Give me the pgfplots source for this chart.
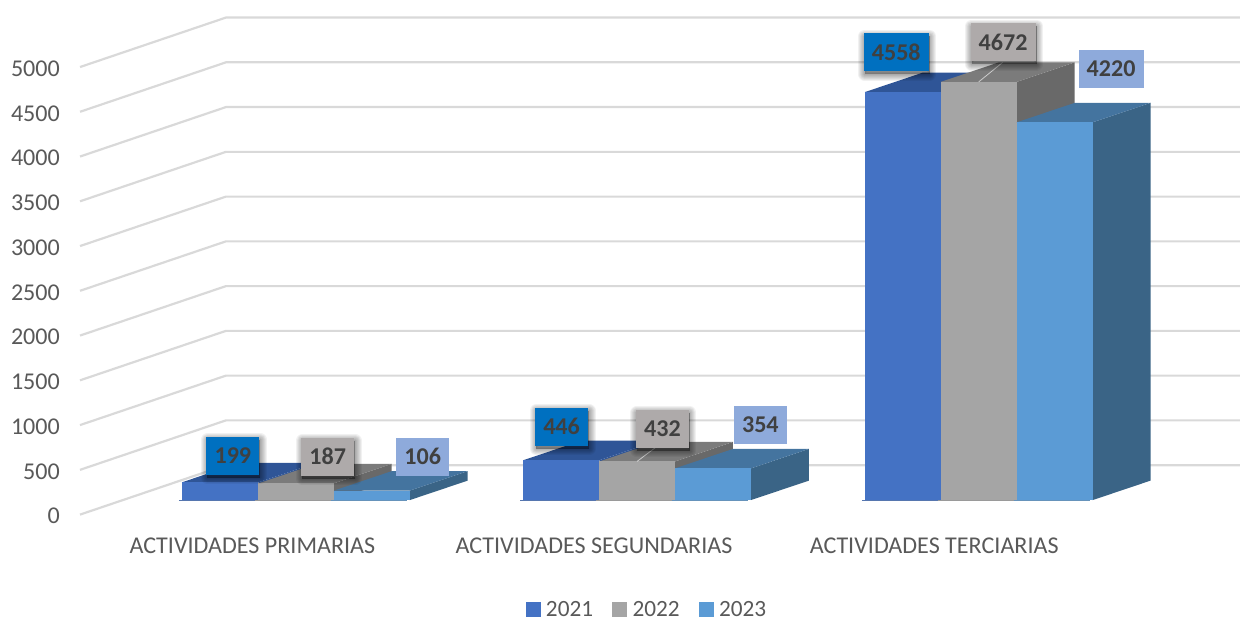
\documentclass[border=0pt]{standalone}
\usepackage{fontspec}
\setmainfont{Carlito}
\usepackage{pgfplots}
\pgfplotsset{compat=1.18}
\definecolor{txt}{HTML}{595959}
\definecolor{gridc}{HTML}{D9D9D9}
\definecolor{fa}{HTML}{4472C4}\definecolor{ta}{HTML}{2F5597}\definecolor{sa}{HTML}{2F5597}
\definecolor{fb}{HTML}{A5A5A5}\definecolor{tb}{HTML}{7B7B7B}\definecolor{sb}{HTML}{696969}
\definecolor{fc}{HTML}{5B9BD5}\definecolor{tc}{HTML}{44749F}\definecolor{sc}{HTML}{3A6486}
\definecolor{la}{HTML}{0070C0}\definecolor{lb}{HTML}{AEAAAA}\definecolor{lc}{HTML}{8EAADB}
% x0, x1, value, front, top, side
\newcommand{\tdbar}[6]{%
 \addplot[fill=#6,draw=none,forget plot] coordinates {(#2,0)(#2+58,217.6)(#2+58,#3+217.6)(#2,#3)};
 \addplot[fill=#5,draw=none,forget plot] coordinates {(#1,#3)(#1+58,#3+217.6)(#2+58,#3+217.6)(#2,#3)};
 \addplot[#4!70!gray,line width=1pt,forget plot] coordinates {(#1-3,-6)(#2-3,-6)};
 \addplot[fill=#4,draw=none,forget plot] coordinates {(#1,0)(#2,0)(#2,#3)(#1,#3)};
}
\newcommand{\gridl}[1]{\addplot[gridc,line width=2.2pt,forget plot] coordinates {(80,#1)(226,#1+552.4)(1241,#1+552.4)};}
\tikzset{lab/.style={font=\fontsize{24.1}{26}\selectfont\bfseries,text=black!75,inner sep=0pt,minimum height=38pt,anchor=center},
 sh/.style={preaction={draw=black,fill=black,draw opacity=.055,fill opacity=.055,line width=#1,line join=round,transform canvas={xshift=1pt,yshift=-3pt}}},
 shad/.style={sh=13pt,sh=11pt,sh=9pt,sh=7pt,sh=5pt,sh=3pt,sh=1pt}}
\begin{document}
\begin{tikzpicture}
\begin{axis}[name=wall,scale only axis,width=1241pt,height=617pt,
 xmin=0,xmax=1241,ymin=-1138.4,ymax=5747.8,
 axis line style={draw=none},major tick length=0pt,
 ytick={0,500,1000,1500,2000,2500,3000,3500,4000,4500,5000},
 xtick={252.5,594.5,935},xticklabels={ACTIVIDADES PRIMARIAS,ACTIVIDADES SEGUNDARIAS,ACTIVIDADES TERCIARIAS},
 /pgf/number format/assume math mode=true,/pgf/number format/1000 sep={},
 yticklabel style={anchor=east,inner sep=0pt,xshift=60pt,yshift=-1.5pt,text=txt,font=\fontsize{24.1}{26}\selectfont},
 xticklabel style={anchor=center,inner sep=0pt,yshift=71pt,text=txt,font=\fontsize{24.1}{26}\selectfont},
 clip=false]
\gridl{0}\gridl{500}\gridl{1000}\gridl{1500}\gridl{2000}\gridl{2500}\gridl{3000}\gridl{3500}\gridl{4000}\gridl{4500}\gridl{5000}
\end{axis}
\begin{axis}[at={(wall.south west)},anchor=south west,scale only axis,width=1241pt,height=617pt,
 xmin=-0.5,xmax=1240.5,ymin=-1300.2,ymax=5586,hide axis,clip=false,
 legend style={at={(0.5217,0.012)},anchor=center,draw=none,fill=none,inner sep=0pt,outer sep=0pt,
   font=\fontsize{23.3}{24}\selectfont,text=txt,legend columns=3,
   nodes={text depth=0pt,text height=14pt},
   /tikz/every even column/.append style={column sep=17pt},
   /tikz/every odd column/.append style={column sep=4pt}},
 legend cell align=left,
 legend image code/.code={\fill[#1] (0pt,-7pt) rectangle (14pt,7pt);}]
\addlegendimage{fa}\addlegendentry{2021}
\addlegendimage{fb}\addlegendentry{2022}
\addlegendimage{fc}\addlegendentry{2023}
\tdbar{181.5}{258}{199}{fa}{ta}{sa}
\tdbar{258}{333.5}{187}{fb}{tb}{sb}
\tdbar{333.5}{409.5}{106}{fc}{tc}{sc}
\tdbar{523.3}{599.3}{446}{fa}{ta}{sa}
\tdbar{599.3}{675}{432}{fb}{tb}{sb}
\tdbar{675}{751}{354}{fc}{tc}{sc}
\tdbar{865}{941}{4558}{fa}{ta}{sa}
\tdbar{941}{1017}{4672}{fb}{tb}{sb}
\tdbar{1017}{1093}{4220}{fc}{tc}{sc}
\addplot[white!80!black,line width=.8pt,forget plot] coordinates {(979,4672)(1003,4890)};
\addplot[white!80!black,line width=.8pt,forget plot] coordinates {(637,432)(663,650)};
\node[lab,fill=la,minimum width=53pt,shad] at (axis cs:232.5,497) {199};
\node[lab,fill=lb,minimum width=53pt,shad] at (axis cs:327.5,486) {187};
\node[lab,fill=lc,minimum width=53pt] at (axis cs:422.5,486) {106};
\node[lab,fill=la,minimum width=53pt,shad] at (axis cs:561.5,820) {446};
\node[lab,fill=lb,minimum width=53pt,shad] at (axis cs:662.5,798) {432};
\node[lab,fill=lc,minimum width=53pt] at (axis cs:760.5,843) {354};
\node[lab,fill=la,minimum width=65pt,shad] at (axis cs:896.5,5005) {4558};
\node[lab,fill=lb,minimum width=65pt,shad] at (axis cs:1003.5,5117) {4672};
\node[lab,fill=lc,minimum width=65pt] at (axis cs:1111.5,4816) {4220};
\end{axis}
\end{tikzpicture}
\end{document}
